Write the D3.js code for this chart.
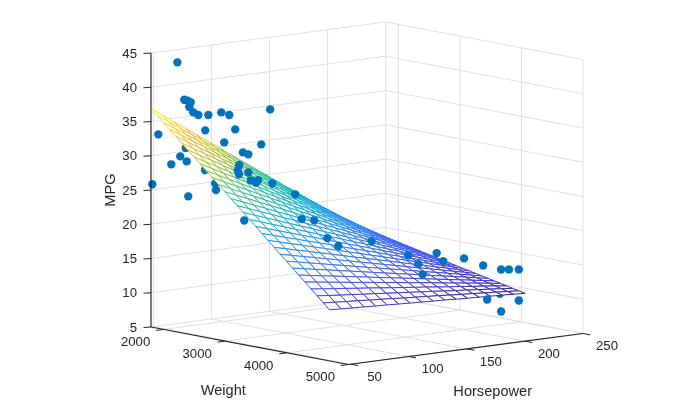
<!DOCTYPE html>
<html>
<head>
<meta charset="utf-8">
<title>MPG vs Weight and Horsepower</title>
<script src="https://cdn.jsdelivr.net/npm/d3@7"></script>
<style>
html,body{margin:0;padding:0;background:#fff;}
svg{display:block;}
text{font-family:"Liberation Sans",Arial,sans-serif;fill:#262626;}
</style>
</head>
<body>
<svg id="chart" width="700" height="420" viewBox="0 0 700 420"></svg>
<script>
const weightTicks = [2000, 3000, 4000, 5000];
const horsepowerTicks = [50, 100, 150, 200, 250];
const mpgTicks = [5, 10, 15, 20, 25, 30, 35, 40, 45];

const meshWeights = [1795,1895,1995,2095,2195,2295,2395,2495,2595,2695,2795,2895,2995,3095,3195,3295,3395,3495,3595,3695,3795,3895,3995,4095,4195,4295,4395,4495,4595,4695];
const meshHorsepowers = [48,57.9,67.8,77.7,87.6,97.5,107.4,117.3,127.2,137.1,147,156.9,166.8,176.7,186.6,196.5,206.4,216.3];
const meshMpg = [
[36.91,36.07,35.22,34.38,33.54,32.70,31.85,31.01,30.17,29.32,28.48,27.64,26.79,25.95,25.11,24.27,23.42,22.58,21.74,20.89,20.05,19.21,18.36,17.52,16.68,15.84,14.99,14.15,13.31,12.46],
[35.72,34.92,34.11,33.31,32.50,31.70,30.89,30.09,29.28,28.48,27.67,26.87,26.06,25.26,24.45,23.65,22.84,22.04,21.23,20.43,19.62,18.82,18.01,17.21,16.40,15.60,14.79,13.99,13.18,12.38],
[34.53,33.76,33.00,32.23,31.46,30.70,29.93,29.16,28.39,27.63,26.86,26.09,25.33,24.56,23.79,23.03,22.26,21.49,20.72,19.96,19.19,18.42,17.66,16.89,16.12,15.36,14.59,13.82,13.05,12.29],
[33.34,32.61,31.88,31.16,30.43,29.70,28.97,28.24,27.52,26.79,26.06,25.33,24.60,23.88,23.15,22.42,21.69,20.96,20.24,19.51,18.78,18.05,17.32,16.60,15.87,15.14,14.41,13.68,12.96,12.23],
[32.14,31.45,30.76,30.07,29.38,28.69,28.00,27.31,26.62,25.93,25.24,24.55,23.86,23.17,22.48,21.79,21.10,20.41,19.72,19.03,18.34,17.65,16.96,16.27,15.58,14.89,14.20,13.51,12.82,12.13],
[30.95,30.30,29.65,29.00,28.35,27.70,27.04,26.39,25.74,25.09,24.44,23.79,23.14,22.49,21.84,21.19,20.53,19.88,19.23,18.58,17.93,17.28,16.63,15.98,15.33,14.68,14.02,13.37,12.72,12.07],
[29.76,29.15,28.53,27.92,27.31,26.70,26.08,25.47,24.86,24.24,23.63,23.02,22.40,21.79,21.18,20.57,19.95,19.34,18.73,18.11,17.50,16.89,16.27,15.66,15.05,14.44,13.82,13.21,12.60,11.98],
[28.56,27.99,27.41,26.84,26.26,25.69,25.11,24.54,23.96,23.39,22.81,22.24,21.66,21.09,20.51,19.94,19.36,18.79,18.21,17.64,17.06,16.49,15.91,15.34,14.76,14.19,13.61,13.04,12.46,11.89],
[27.37,26.83,26.30,25.76,25.23,24.69,24.15,23.62,23.08,22.55,22.01,21.47,20.94,20.40,19.87,19.33,18.79,18.26,17.72,17.19,16.65,16.11,15.58,15.04,14.51,13.97,13.43,12.90,12.36,11.83],
[26.18,25.68,25.18,24.69,24.19,23.69,23.19,22.69,22.20,21.70,21.20,20.70,20.20,19.71,19.21,18.71,18.21,17.71,17.22,16.72,16.22,15.72,15.22,14.73,14.23,13.73,13.23,12.73,12.24,11.74],
[24.99,24.53,24.07,23.61,23.15,22.70,22.24,21.78,21.32,20.86,20.40,19.94,19.48,19.02,18.56,18.11,17.65,17.19,16.73,16.27,15.81,15.35,14.89,14.43,13.97,13.52,13.06,12.60,12.14,11.68],
[23.79,23.37,22.95,22.53,22.11,21.69,21.26,20.84,20.42,20.00,19.58,19.16,18.74,18.32,17.90,17.48,17.05,16.63,16.21,15.79,15.37,14.95,14.53,14.11,13.69,13.27,12.84,12.42,12.00,11.58],
[22.60,22.22,21.83,21.45,21.07,20.69,20.30,19.92,19.54,19.15,18.77,18.39,18.00,17.62,17.24,16.86,16.47,16.09,15.71,15.32,14.94,14.56,14.17,13.79,13.41,13.03,12.64,12.26,11.88,11.49],
[21.41,21.07,20.72,20.38,20.03,19.69,19.35,19.00,18.66,18.31,17.97,17.63,17.28,16.94,16.59,16.25,15.91,15.56,15.22,14.87,14.53,14.19,13.84,13.50,13.15,12.81,12.47,12.12,11.78,11.43],
[20.22,19.91,19.61,19.30,19.00,18.69,18.38,18.08,17.77,17.47,17.16,16.85,16.55,16.24,15.94,15.63,15.32,15.02,14.71,14.41,14.10,13.79,13.49,13.18,12.88,12.57,12.26,11.96,11.65,11.35],
[19.02,18.75,18.49,18.22,17.95,17.69,17.42,17.15,16.88,16.62,16.35,16.08,15.82,15.55,15.28,15.02,14.75,14.48,14.21,13.95,13.68,13.41,13.15,12.88,12.61,12.35,12.08,11.81,11.54,11.28],
[17.83,17.60,17.37,17.14,16.91,16.69,16.46,16.23,16.00,15.77,15.54,15.31,15.08,14.85,14.62,14.40,14.17,13.94,13.71,13.48,13.25,13.02,12.79,12.56,12.33,12.11,11.88,11.65,11.42,11.19],
[16.64,16.45,16.26,16.07,15.88,15.69,15.49,15.30,15.11,14.92,14.73,14.54,14.35,14.16,13.97,13.78,13.58,13.39,13.20,13.01,12.82,12.63,12.44,12.25,12.06,11.87,11.67,11.48,11.29,11.10]
];

// cars in front of the fitted surface
const frontWeight = [1880,1937,1965,1990,1979,2012,2054,2138,2246,2313,2655,2112,2363,1895,2271,2580,2427,2472,1904,1828,1957,2396,2383,2394,2472,2492,2555,2536,2672,2202,1805,1970,2864,2438,2918,3023,3132,3224,3503,3808,4046,4101,3892,3929,4276,4435,4585,4650,4733,4468,4733,4585];
const frontHorsepower = [66.2,69.1,70.5,71.8,71.2,72.9,75,79.2,84.6,87.9,105,77.9,90.4,49,85.8,101.3,93.6,95.9,67.4,63.7,70.1,92.1,91.4,92,95.9,96.9,100,99.1,105.9,82.4,48.6,70.8,115.5,94.2,118.2,123.4,128.9,133.5,147.4,162.7,174.6,177.3,166.9,168.7,186,194,201.5,204.8,208.9,195.7,208.9,201.5];
const frontMpg = [43.37,37.94,37.81,37.6,36.9,36.15,35.78,35.83,36.28,35.93,36.96,33.58,33.87,33.27,31.92,31.81,30.55,30.29,29.66,28.45,28.96,28.68,27.9,27.32,27.66,26.5,26.58,26.18,26.17,24.92,25.84,23.86,24.68,20.6,21.1,20.97,18.45,17.34,18.23,16.32,16.8,15.66,15.1,13.62,16.16,15.23,14.73,14.77,14.82,10.28,10.29,8.6];
// cars behind the fitted surface
const behindWeight = [1949,2110,2196,2620,2653,3349,3419,4574];
const behindHorsepower = [69.7,77.8,82,103.3,104.9,139.7,143.2,201];
const behindMpg = [30.9,27.78,25.89,23.12,23.62,17.81,15.55,11.16];

const parulaStops = ["#3e26a8","#4852f4","#2d87f7","#12b1d6","#37c897","#abc639","#fec338","#f9fb15"];

const W0 = 1795, W1 = 5000, H0 = 48, H1 = 250, Z0 = 5, Z1 = 45;
const weightX = d3.scaleLinear().domain([W0, W1]).range([0, 197.3]);
const weightY = d3.scaleLinear().domain([W0, W1]).range([0, 37.5]);
const hpX = d3.scaleLinear().domain([H0, H1]).range([0, 234.7]);
const hpY = d3.scaleLinear().domain([H0, H1]).range([0, -31]);
const mpgY = d3.scaleLinear().domain([Z0, Z1]).range([0, -274]);
const originX = 151, originY = 327;

const project = (w, h, z) => [originX + weightX(w) + hpX(h), originY + weightY(w) + hpY(h) + mpgY(z)];

const color = d3.scaleSequential(d3.piecewise(d3.interpolateRgb, parulaStops))
  .domain(d3.extent(meshMpg.flat()));

const svgRoot = d3.select("#chart");
svgRoot.append("defs").append("filter").attr("id", "soft")
  .attr("filterUnits", "userSpaceOnUse").attr("x", 0).attr("y", 0).attr("width", 700).attr("height", 420)
  .attr("color-interpolation-filters", "sRGB")
  .append("feGaussianBlur").attr("stdDeviation", 0.4);
const svg = svgRoot.append("g").attr("filter", "url(#soft)");
svg.append("rect").attr("width", 700).attr("height", 420).attr("fill", "#fff");
const line = d3.line();

function seg(g, a, b, stroke, width) {
  g.append("path").attr("d", line([a, b])).attr("fill", "none").attr("stroke", stroke).attr("stroke-width", width);
}

// grid
const gridColor = "#e0e0e0";
const grid = svg.append("g");
mpgTicks.forEach(z => {
  seg(grid, project(W0, H0, z), project(W0, H1, z), gridColor, 1);
  seg(grid, project(W0, H1, z), project(W1, H1, z), gridColor, 1);
});
horsepowerTicks.forEach(h => {
  seg(grid, project(W0, h, Z0), project(W0, h, Z1), gridColor, 1);
  seg(grid, project(W0, h, Z0), project(W1, h, Z0), gridColor, 1);
});
weightTicks.forEach(w => {
  seg(grid, project(w, H1, Z0), project(w, H1, Z1), gridColor, 1);
  seg(grid, project(w, H0, Z0), project(w, H1, Z0), gridColor, 1);
});

function drawCars(ws, hs, zs) {
  svg.append("g").selectAll("circle").data(ws).join("circle")
    .attr("cx", (d, i) => project(ws[i], hs[i], zs[i])[0])
    .attr("cy", (d, i) => project(ws[i], hs[i], zs[i])[1])
    .attr("r", 4.2)
    .attr("fill", "#0072BD");
}

drawCars(behindWeight, behindHorsepower, behindMpg);

// mesh, painted from far to near
const mesh = svg.append("g");
for (let r = meshHorsepowers.length - 2; r >= 0; r--) {
  for (let c = 0; c < meshWeights.length - 1; c++) {
    const p = (ri, ci) => project(meshWeights[ci], meshHorsepowers[ri], meshMpg[ri][ci]);
    const z = (ri, ci) => meshMpg[ri][ci];
    mesh.append("path")
      .attr("d", line([p(r, c), p(r + 1, c), p(r + 1, c + 1), p(r, c + 1)]) + "Z")
      .attr("fill", "#fff").attr("stroke", "none");
    [[[r, c], [r + 1, c]], [[r + 1, c], [r + 1, c + 1]], [[r, c], [r, c + 1]], [[r, c + 1], [r + 1, c + 1]]].forEach(([a, b]) => {
      seg(mesh, p(a[0], a[1]), p(b[0], b[1]), color((z(a[0], a[1]) + z(b[0], b[1])) / 2), 1);
    });
  }
}

drawCars(frontWeight, frontHorsepower, frontMpg);

// axes
const axisColor = "#262626";
const axes = svg.append("g");
seg(axes, project(W0, H0, Z0), project(W0, H0, Z1), axisColor, 1.2);
seg(axes, project(W0, H0, Z0), project(W1, H0, Z0), axisColor, 1.2);
seg(axes, project(W1, H0, Z0), project(W1, H1, Z0), axisColor, 1.2);

const labels = svg.append("g").attr("font-size", 13.2);
mpgTicks.forEach(z => {
  const [x, y] = project(W0, H0, z);
  seg(axes, [x, y], [x - 7.5, y + 0.5], axisColor, 1);
  labels.append("text").attr("x", x - 14).attr("y", y + 4.6).attr("text-anchor", "end").text(z);
});
weightTicks.forEach(w => {
  const [x, y] = project(w, H0, Z0);
  seg(axes, [x, y], [x - 7.5, y + 1], axisColor, 1);
  labels.append("text").attr("x", x - 28).attr("y", y + 16.9).attr("text-anchor", "middle").text(w);
});
horsepowerTicks.forEach(h => {
  const [x, y] = project(W1, h, Z0);
  seg(axes, [x, y], [x + 7.5, y + 1.4], axisColor, 1);
  labels.append("text").attr("x", x + 24).attr("y", y + 16.9).attr("text-anchor", "middle").text(h);
});

svg.append("text").attr("x", 223.3).attr("y", 395).attr("text-anchor", "middle").attr("font-size", 14.6).text("Weight");
svg.append("text").attr("x", 492.7).attr("y", 396).attr("text-anchor", "middle").attr("font-size", 14.6).text("Horsepower");
svg.append("text").attr("transform", "translate(115,190) rotate(-90)").attr("text-anchor", "middle").attr("font-size", 14.6).text("MPG");
</script>
</body>
</html>
